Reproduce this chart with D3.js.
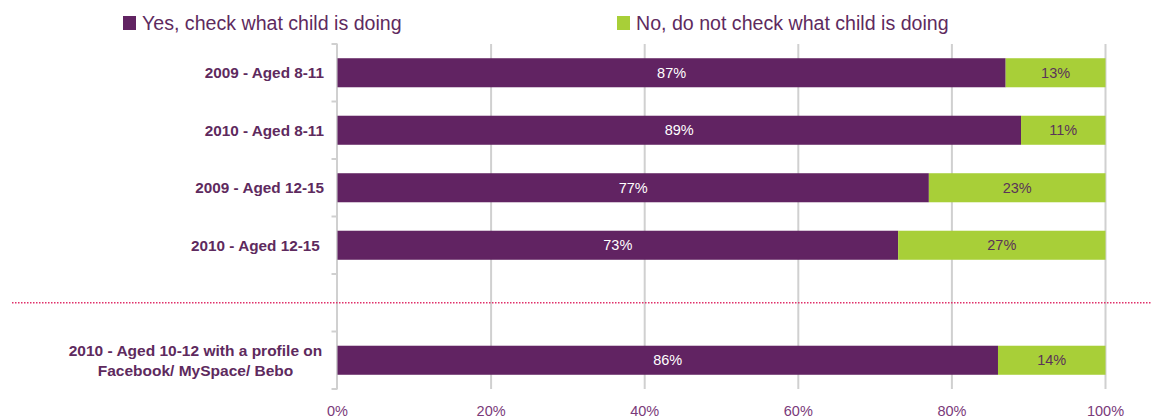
<!DOCTYPE html>
<html>
<head>
<meta charset="utf-8">
<script src="https://cdn.jsdelivr.net/npm/d3@7"></script>
<style>
  html, body { margin: 0; padding: 0; background: #fff; }
  svg { display: block; font-family: "Liberation Sans", Arial, sans-serif; }
</style>
</head>
<body>
<svg id="chart" width="1151" height="420"></svg>
<script>
// ---- data ----
const categories = [
  "2009 - Aged 8-11",
  "2010 - Aged 8-11",
  "2009 - Aged 12-15",
  "2010 - Aged 12-15\u00a0",
  "",
  "2010 - Aged 10-12 with a profile on|Facebook/ MySpace/ Bebo"
];
const yesValues = [87, 89, 77, 73, null, 86];
const noValues  = [13, 11, 23, 27, null, 14];
const seriesNames = ["Yes, check what child is doing", "No, do not check what child is doing"];
const tickValues = [0, 20, 40, 60, 80, 100];
const tickLabels = ["0%", "20%", "40%", "60%", "80%", "100%"];

// ---- styles ----
const purple = "#612362";
const green = "#a8cf38";
const textPurple = "#5e2a5e";
const gridColor = "#d0d0d0";

const svg = d3.select("#chart");
const margin = { left: 337.5, right: 1105.5, top: 44, bottom: 389 };

const x = d3.scaleLinear().domain([0, 100]).range([margin.left, margin.right]);
const y = d3.scaleBand().domain(d3.range(categories.length)).range([margin.top, margin.bottom]).paddingInner(0.495).paddingOuter(0.2475);

// gridlines
svg.append("g").selectAll("line").data(tickValues.filter(d => d > 0)).join("line")
  .attr("x1", d => x(d)).attr("x2", d => x(d))
  .attr("y1", margin.top).attr("y2", margin.bottom)
  .attr("stroke", gridColor).attr("stroke-width", 2);

// y axis line + ticks at band boundaries
const step = y.step();
svg.append("line")
  .attr("x1", x(0) - 0.5).attr("x2", x(0) - 0.5)
  .attr("y1", margin.top).attr("y2", margin.bottom)
  .attr("stroke", gridColor).attr("stroke-width", 2);
svg.append("g").selectAll("line").data(d3.range(categories.length + 1)).join("line")
  .attr("x1", x(0) - 6).attr("x2", x(0))
  .attr("y1", i => margin.top + i * step).attr("y2", i => margin.top + i * step)
  .attr("stroke", gridColor).attr("stroke-width", 2);

// bars
const rows = categories.map((c, i) => ({ i, c, yes: yesValues[i], no: noValues[i] })).filter(r => r.yes != null);
const g = svg.append("g");
g.selectAll("rect.yes").data(rows).join("rect")
  .attr("x", x(0)).attr("y", d => y(d.i))
  .attr("width", d => x(d.yes) - x(0)).attr("height", y.bandwidth())
  .attr("fill", purple);
g.selectAll("rect.no").data(rows).join("rect")
  .attr("x", d => x(d.yes)).attr("y", d => y(d.i))
  .attr("width", d => x(d.yes + d.no) - x(d.yes)).attr("height", y.bandwidth())
  .attr("fill", green);

// value labels
g.selectAll("text.yes").data(rows).join("text")
  .attr("x", d => x(d.yes / 2)).attr("y", d => y(d.i) + y.bandwidth() / 2)
  .attr("dy", "0.35em").attr("text-anchor", "middle")
  .attr("font-size", 14.5).attr("fill", "#ffffff")
  .text(d => d.yes + "%");
g.selectAll("text.no").data(rows).join("text")
  .attr("x", d => x(d.yes + d.no / 2)).attr("y", d => y(d.i) + y.bandwidth() / 2)
  .attr("dy", "0.35em").attr("text-anchor", "middle")
  .attr("font-size", 14.5).attr("fill", "#5a3358")
  .text(d => d.no + "%");

// category labels
categories.forEach((c, i) => {
  if (!c) return;
  const lines = c.split("|");
  const cy = y(i) + y.bandwidth() / 2;
  const lh = 20.5;
  if (lines.length === 1) {
    svg.append("text")
      .attr("x", 324).attr("y", cy).attr("dy", "0.35em")
      .attr("text-anchor", "end").attr("font-size", 15.3).attr("font-weight", "bold")
      .attr("fill", textPurple).text(lines[0]);
  } else {
    lines.forEach((l, k) => {
      svg.append("text")
        .attr("x", 195.5).attr("y", cy + 0.5 + (k - (lines.length - 1) / 2) * lh).attr("dy", "0.35em")
        .attr("text-anchor", "middle").attr("font-size", 15.5).attr("font-weight", "bold")
        .attr("fill", textPurple).text(l);
    });
  }
});

// x axis tick labels
svg.append("g").selectAll("text").data(tickValues).join("text")
  .attr("x", (d) => x(d)).attr("y", 411).attr("dy", "0.35em")
  .attr("text-anchor", "middle").attr("font-size", 14.5).attr("fill", "#7a3a7a")
  .text((d, i) => tickLabels[i]);

// dotted separator between the 4th and 6th rows
const sepY = y(4) + y.bandwidth() / 2;
svg.append("line")
  .attr("x1", 12).attr("x2", 1151)
  .attr("y1", sepY).attr("y2", sepY)
  .attr("stroke", "#e0306a").attr("stroke-width", 1.5)
  .attr("stroke-dasharray", "1.5,1.5");

// legend
const legendX = [123, 617];
const colors = [purple, green];
seriesNames.forEach((n, i) => {
  svg.append("rect").attr("x", legendX[i]).attr("y", 16).attr("width", 13).attr("height", 14).attr("fill", colors[i]);
  svg.append("text").attr("x", legendX[i] + 19).attr("y", 23).attr("dy", "0.35em")
    .attr("font-size", 19.6).attr("fill", textPurple).text(n);
});
</script>
</body>
</html>
